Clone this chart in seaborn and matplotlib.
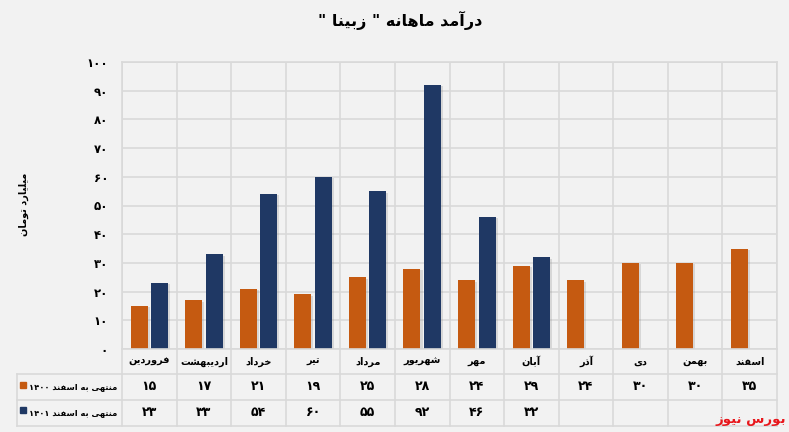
import re

import numpy as np
import pandas as pd
import matplotlib
matplotlib.use('Agg')
import matplotlib.pyplot as plt
import matplotlib.patheffects as pe
import seaborn as sns

months = ['فروردین', 'اردیبهشت', 'خرداد', 'تیر', 'مرداد', 'شهریور',
          'مهر', 'آبان', 'آذر', 'دی', 'بهمن', 'اسفند']
rev_1400 = [15, 17, 21, 19, 25, 28, 24, 29, 24, 30, 30, 35]
rev_1401 = [23, 33, 54, 60, 55, 92, 46, 32, None, None, None, None]
series_names = ['منتهی به اسفند ۱۴۰۰', 'منتهی به اسفند ۱۴۰۱']
y_ticks = list(range(0, 101, 10))
title = 'درآمد ماهانه " زبینا "'
y_label = 'میلیارد تومان'
source = 'بورس نیوز'

ORANGE = '#c55a11'
NAVY = '#1f3864'
BG = '#f2f2f2'
GRID = '#d9d9d9'

# matplotlib does no arabic shaping, so pick presentation forms by hand
# (isolated, final, initial, medial); None = letter does not join forward
FORMS = {
    'ا': ('\uFE8D', '\uFE8E', None, None),
    'آ': ('\uFE81', '\uFE82', None, None),
    'د': ('\uFEA9', '\uFEAA', None, None),
    'ذ': ('\uFEAB', '\uFEAC', None, None),
    'ر': ('\uFEAD', '\uFEAE', None, None),
    'ز': ('\uFEAF', '\uFEB0', None, None),
    'و': ('\uFEED', '\uFEEE', None, None),
    'ب': ('\uFE8F', '\uFE90', '\uFE91', '\uFE92'),
    'ت': ('\uFE95', '\uFE96', '\uFE97', '\uFE98'),
    'خ': ('\uFEA5', '\uFEA6', '\uFEA7', '\uFEA8'),
    'س': ('\uFEB1', '\uFEB2', '\uFEB3', '\uFEB4'),
    'ش': ('\uFEB5', '\uFEB6', '\uFEB7', '\uFEB8'),
    'ف': ('\uFED1', '\uFED2', '\uFED3', '\uFED4'),
    'ل': ('\uFEDD', '\uFEDE', '\uFEDF', '\uFEE0'),
    'م': ('\uFEE1', '\uFEE2', '\uFEE3', '\uFEE4'),
    'ن': ('\uFEE5', '\uFEE6', '\uFEE7', '\uFEE8'),
    'ه': ('\uFEE9', '\uFEEA', '\uFEEB', '\uFEEC'),
    'ی': ('\uFBFC', '\uFBFD', '\uFBFE', '\uFBFF'),
}
FA_DIGITS = str.maketrans('0123456789', '۰۱۲۳۴۵۶۷۸۹')


def fa(text):
    out = []
    for i, ch in enumerate(text):
        if ch not in FORMS:
            out.append(ch)
            continue
        prev = text[i - 1] if i > 0 else ''
        nxt = text[i + 1] if i + 1 < len(text) else ''
        joins_prev = prev in FORMS and FORMS[prev][2] is not None
        joins_next = FORMS[ch][2] is not None and nxt in FORMS
        iso, fin, ini, med = FORMS[ch]
        if joins_prev and joins_next:
            out.append(med)
        elif joins_prev:
            out.append(fin)
        elif joins_next:
            out.append(ini)
        else:
            out.append(iso)
    shaped = ''.join(out)
    # right-to-left, but keep digit runs left-to-right
    tokens = re.findall(r'[0-9۰-۹]+|[^0-9۰-۹]+', shaped)
    return ''.join(t if re.fullmatch(r'[0-9۰-۹]+', t) else t[::-1]
                   for t in reversed(tokens))


def fnum(v):
    return str(v).translate(FA_DIGITS)


df = pd.DataFrame({
    'month': months * 2,
    'revenue': rev_1400 + rev_1401,
    'series': [series_names[0]] * 12 + [series_names[1]] * 12,
})
df['revenue'] = pd.to_numeric(df['revenue'])

plt.rcParams['font.family'] = ['DejaVu Sans']
plt.rcParams['font.weight'] = 'bold'

fig = plt.figure(figsize=(7.89, 4.32), dpi=100, facecolor=BG)
ax = fig.add_axes([122 / 789, 1 - 349 / 432, (777 - 122) / 789, (349 - 62) / 432])
ax.set_facecolor(BG)

sns.barplot(data=df, x='month', y='revenue', hue='series', order=months,
            hue_order=series_names, palette=[ORANGE, NAVY], saturation=1,
            width=0.75, gap=0.17, ax=ax, legend=False)
for bar in ax.patches:
    bar.set_linewidth(0)
    bar.set_path_effects([pe.SimplePatchShadow(offset=(1.5, -1), alpha=0.25,
                                               shadow_rgbFace='#888888'),
                          pe.Normal()])

ax.set_xlim(-0.5, len(months) - 0.5)
ax.set_ylim(0, 100)
ax.set_yticks(y_ticks)
ax.set_yticklabels([fnum(t) for t in y_ticks], fontsize=8.5, fontweight='bold')
ax.tick_params(axis='y', length=0, pad=10)
ax.set_xticks(np.arange(-0.5, len(months), 1))
ax.set_xticklabels([])
ax.tick_params(axis='x', length=0)
ax.grid(True, color=GRID, linewidth=1.2)
ax.set_axisbelow(True)
for s in ax.spines.values():
    s.set_color(GRID)
    s.set_linewidth(1.2)
ax.set_xlabel('')
ax.set_ylabel('')

# data table under the axis
trans = ax.get_xaxis_transform()
h = 349 - 62
row_edges = [0, -25 / h, -51 / h, -77 / h]
x_left = -0.5 - (122 - 17) / 54.6
for yy in row_edges[1:]:
    ax.plot([x_left, len(months) - 0.5], [yy, yy], transform=trans,
            color=GRID, lw=1.2, clip_on=False)
ax.plot([x_left, x_left], [row_edges[1], row_edges[3]], transform=trans,
        color=GRID, lw=1.2, clip_on=False)
for xx in np.arange(-0.5, len(months), 1):
    ax.plot([xx, xx], [0, row_edges[3]], transform=trans,
            color=GRID, lw=1.2, clip_on=False)

mid = [(row_edges[i] + row_edges[i + 1]) / 2 for i in range(3)]
for i, m in enumerate(months):
    ax.text(i, mid[0], fa(m), transform=trans, ha='center', va='center',
            fontsize=7, fontweight='bold')
    ax.text(i, mid[1], fnum(rev_1400[i]), transform=trans, ha='center',
            va='center', fontsize=9, fontweight='bold')
    if rev_1401[i] is not None:
        ax.text(i, mid[2], fnum(rev_1401[i]), transform=trans, ha='center',
                va='center', fontsize=9, fontweight='bold')

for r, (name, col) in enumerate(zip(series_names, [ORANGE, NAVY])):
    ax.text(-0.58, mid[r + 1], fa(name), transform=trans, ha='right',
            va='center', fontsize=6, fontweight='bold')
    fig.patches.append(plt.Rectangle((20 / 789, 1 - (388 + r * 25) / 432),
                                     6 / 789, 6 / 432, color=col,
                                     transform=fig.transFigure))

fig.text(400 / 789, 1 - 20 / 432, fa(title), ha='center', va='center',
         fontsize=11.5, fontweight='bold')
fig.text(24 / 789, 1 - 204 / 432, fa(y_label), ha='center', va='center',
         rotation=90, fontsize=7, fontweight='bold')
fig.text(786 / 789, 1 - 419 / 432, fa(source), ha='right', va='center',
         fontsize=9.5, fontweight='bold', color='#e8161b')

fig.savefig('out.png', dpi=100, facecolor=BG)
